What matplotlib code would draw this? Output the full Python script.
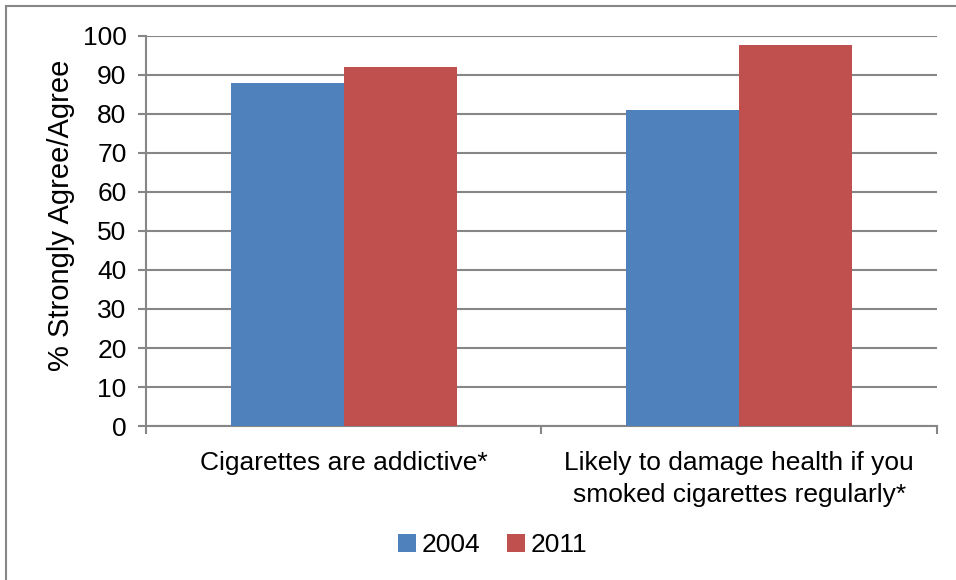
"""Smokers' beliefs about cigarettes, 2004 vs 2011"""

import matplotlib.pyplot as plt
from matplotlib.patches import Rectangle
import numpy as np

plt.rcParams["font.family"] = ["Liberation Sans", "DejaVu Sans"]

categories = ["Cigarettes are addictive*",
              "Likely to damage health if you\nsmoked cigarettes regularly*"]
years = ["2004", "2011"]
pct_2004 = [88, 81]
pct_2011 = [92, 97.6]

blue = "#4F81BD"
red = "#C0504D"
grey = "#868686"

fig = plt.figure(figsize=(9.56, 5.8), dpi=100)
ax = fig.add_axes([0.1527, 0.2655, 0.9800 - 0.1527, 0.938 - 0.2655])

x = np.arange(len(categories))
w = 1 / 3.5
ax.bar(x - w / 2, pct_2004, w, color=blue, label=years[0], zorder=3)
ax.bar(x + w / 2, pct_2011, w, color=red, label=years[1], zorder=3)

ax.set_xlim(-0.5, 1.5)
ax.set_ylim(0, 100)
ax.set_yticks(range(0, 101, 10))
ax.yaxis.grid(True, color=grey, linewidth=1.5, zorder=0)
ax.set_axisbelow(True)

# category boundaries get the tick marks, labels sit on minor ticks
ax.set_xticks([-0.5, 0.5, 1.5])
ax.set_xticklabels([])
ax.set_xticks(x, minor=True)
ax.set_xticklabels(categories, minor=True, fontsize=19, linespacing=1.4,
                   va="top")
ax.tick_params(axis="x", which="minor", length=0, pad=18)
ax.tick_params(axis="x", which="major", length=6, width=1.5, color=grey)
ax.tick_params(axis="y", length=6, width=1.5, color=grey, labelsize=19,
               pad=8)

for side in ("top", "right"):
    ax.spines[side].set_visible(False)
for side in ("left", "bottom"):
    ax.spines[side].set_color(grey)
    ax.spines[side].set_linewidth(1.5)

ax.set_ylabel("% Strongly Agree/Agree", fontsize=21)
ax.yaxis.set_label_coords(-0.09, 0.54)

leg = fig.legend(loc="center", bbox_to_anchor=(0.515, 1 - 545 / 580),
                 ncol=2, frameon=False, fontsize=19, handlelength=0.7,
                 handleheight=0.7, handletextpad=0.2, columnspacing=1.0)

# chart-area border, clipped at the right and bottom edges
fig.patches.append(Rectangle((6 / 956, -0.1), 1.2, 1 - 6 / 580 + 0.1,
                             transform=fig.transFigure, fill=False,
                             edgecolor=grey, linewidth=1.5))

fig.savefig("out.png", dpi=100)
